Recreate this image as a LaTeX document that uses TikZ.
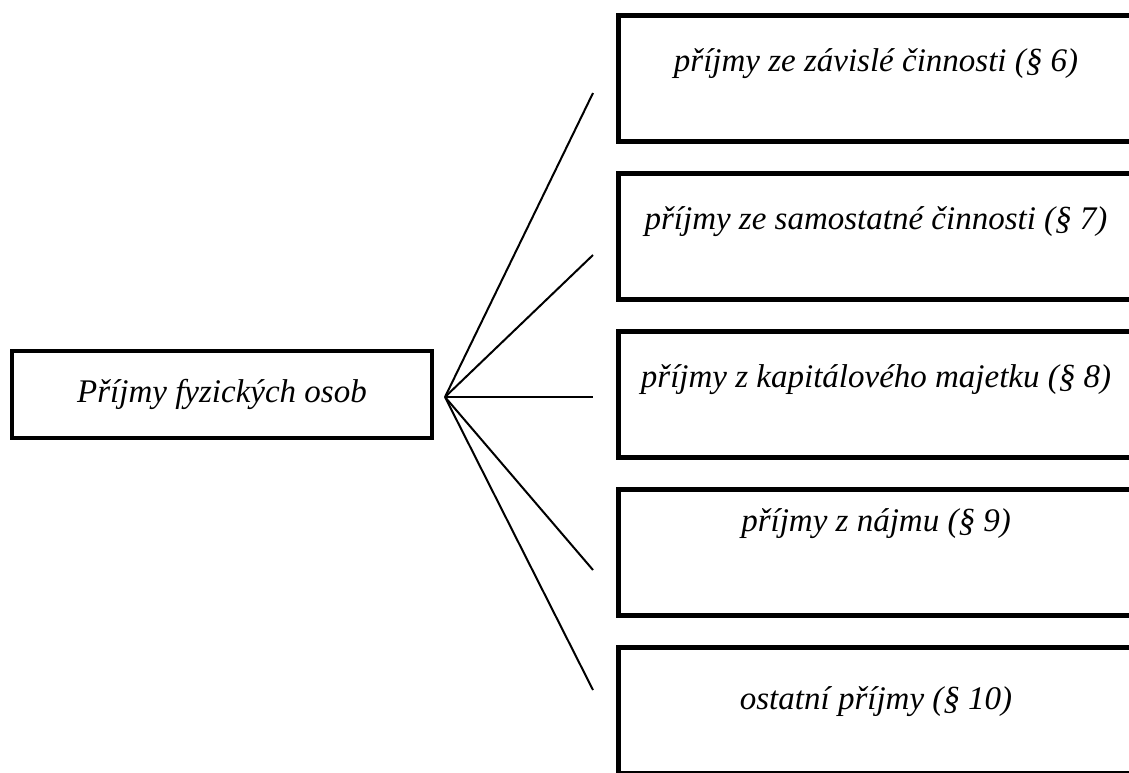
\documentclass[tikz,border=0pt]{standalone}
\usepackage{fontspec}
\setmainfont{Liberation Serif}
\usetikzlibrary{positioning}

\begin{document}
\begin{tikzpicture}[x=1pt,y=-1pt]
	%defines
	\tikzstyle{income} = [rectangle, minimum width=420pt, minimum height=87pt, text centered, draw=black, line width=4.5pt, font=\fontsize{33}{38}\selectfont\itshape]
	\tikzstyle{kind} = [rectangle, minimum width=515pt, minimum height=126pt, draw=black, line width=5pt]
	\tikzstyle{kindText} = [font=\fontsize{33}{38}\selectfont\itshape, yshift=14pt]
	\tikzstyle{line} = [line width=2pt]
	\useasboundingbox (0,0) rectangle (1129,772);
	\clip (0,0) rectangle (1129,772);
	%chart
	\node (income) [income] at (222,394.5) {Příjmy fyzických osob};
	\node (kind6) [kind, label={[kindText]center:příjmy ze závislé činnosti (§ 6)}] at (876,78) {};
	\node (kind7) [kind, below=27pt of kind6, label={[kindText]center:příjmy ze samostatné činnosti (§ 7)}] {};
	\node (kind8) [kind, below=27pt of kind7, label={[kindText]center:příjmy z kapitálového majetku (§ 8)}] {};
	\node (kind9) [kind, below=27pt of kind8, label={[kindText, yshift=14pt]center:příjmy z nájmu (§ 9)}] {};
	\node (kind10) [kind, below=27pt of kind9, label={[kindText, yshift=-6pt]center:ostatní příjmy (§ 10)}] {};
	%lines
	\coordinate (hub) at (445,397);
	\coordinate (end6) at (593,93);
	\coordinate (end7) at (593,255);
	\coordinate (end8) at (593,397);
	\coordinate (end9) at (593,570);
	\coordinate (end10) at (593,690);
	\draw [line] (hub) edge (end6) edge (end7) edge (end8) edge (end9) edge (end10);
\end{tikzpicture}
\end{document}
